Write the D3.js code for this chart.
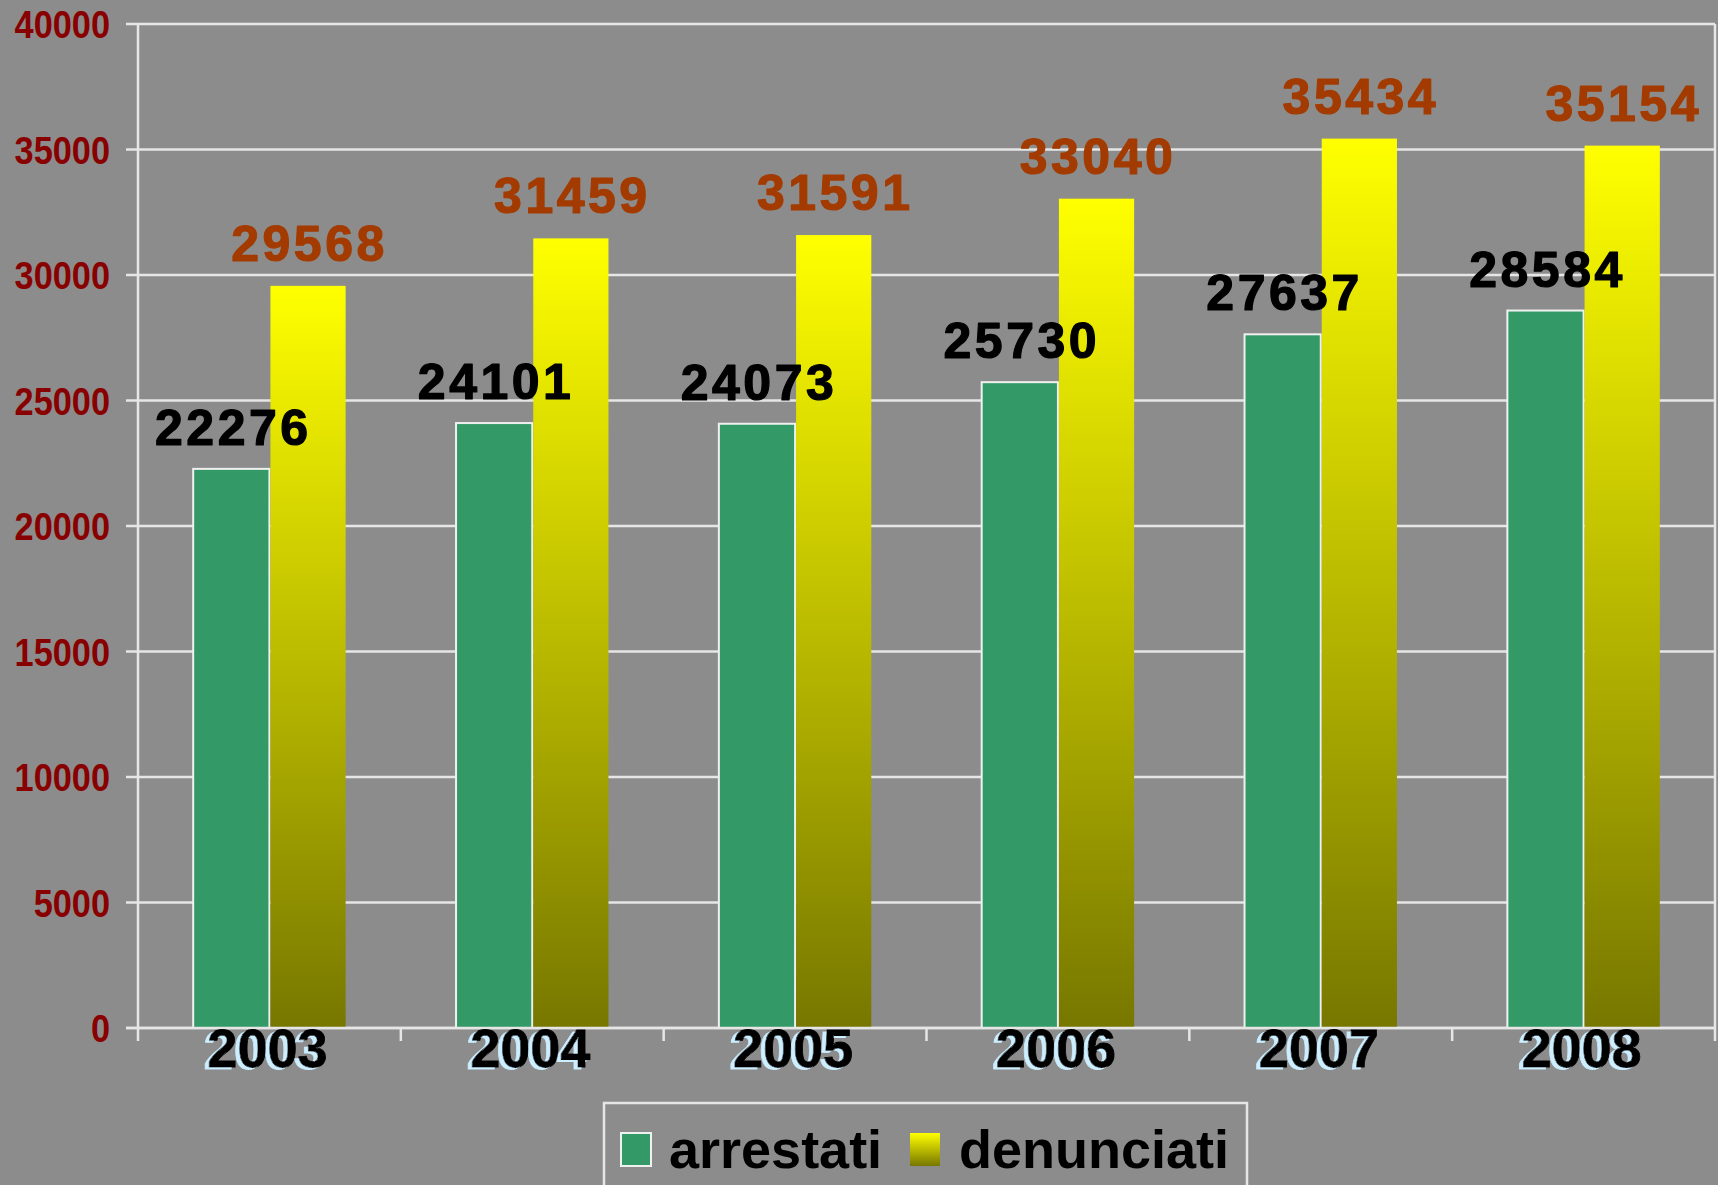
<!DOCTYPE html>
<html>
<head>
<meta charset="utf-8">
<script src="https://cdn.jsdelivr.net/npm/d3@7"></script>
<style>
  html, body { margin: 0; padding: 0; background: #8c8c8c; }
  svg { display: block; }
</style>
</head>
<body>
<svg id="chart"></svg>
<script>
// chart data
var years = ["2003", "2004", "2005", "2006", "2007", "2008"];
var arrestati = [22276, 24101, 24073, 25730, 27637, 28584];
var denunciati = [29568, 31459, 31591, 33040, 35434, 35154];
var seriesNames = ["arrestati", "denunciati"];
var yTicks = [0, 5000, 10000, 15000, 20000, 25000, 30000, 35000, 40000];

var W = 1718, H = 1185;
var plot = { left: 138, right: 1715, top: 24, bottom: 1028 };
var font = "'Liberation Sans', Arial, sans-serif";
var gridColor = "#e6e6e6";

var svg = d3.select("#chart").attr("width", W).attr("height", H);
svg.append("rect").attr("width", W).attr("height", H).attr("fill", "#8c8c8c");

var defs = svg.append("defs");
// gradient for the yellow bars
var grad = defs.append("linearGradient")
  .attr("id", "yellowGrad")
  .attr("x1", 0).attr("y1", 0).attr("x2", 0).attr("y2", 1);
grad.append("stop").attr("offset", "0%").attr("stop-color", "#ffff00");
grad.append("stop").attr("offset", "100%").attr("stop-color", "#777700");

// light blue shadow behind the year labels
var shadow = defs.append("filter").attr("id", "yearShadow")
  .attr("x", "-10%").attr("y", "-10%").attr("width", "120%").attr("height", "130%");
shadow.append("feDropShadow")
  .attr("dx", -4).attr("dy", 2).attr("stdDeviation", 0)
  .attr("flood-color", "#cceeff").attr("flood-opacity", 1);

var x = d3.scaleBand().domain(years)
  .range([plot.left, plot.right])
  .paddingInner(0.42).paddingOuter(0.21);
var x1 = d3.scaleBand().domain(seriesNames).range([0, x.bandwidth()]);
var y = d3.scaleLinear().domain([0, 40000]).range([plot.bottom, plot.top]);

// gridlines (with the little tick to the left)
svg.append("g").selectAll("line")
  .data(yTicks)
  .join("line")
  .attr("x1", plot.left - 12).attr("x2", plot.right)
  .attr("y1", d => y(d)).attr("y2", d => y(d))
  .attr("stroke", gridColor).attr("stroke-width", 2.5);

// y labels, slightly condensed
svg.append("g").selectAll("text")
  .data(yTicks)
  .join("text")
  .attr("transform", d => `translate(110,${y(d)}) scale(0.88,1)`)
  .attr("text-anchor", "end")
  .attr("dy", "0.36em")
  .attr("fill", "#880000")
  .style("font-family", font)
  .style("font-weight", "bold")
  .style("font-size", "39px")
  .text(d => d);

// left and right border lines
svg.append("line")
  .attr("x1", plot.left).attr("x2", plot.left)
  .attr("y1", plot.top).attr("y2", plot.bottom + 13)
  .attr("stroke", gridColor).attr("stroke-width", 2.5);
svg.append("line")
  .attr("x1", plot.right).attr("x2", plot.right)
  .attr("y1", plot.top).attr("y2", plot.bottom + 13)
  .attr("stroke", gridColor).attr("stroke-width", 2.5);

// x category ticks at boundaries
var step = x.step();
svg.append("g").selectAll("line")
  .data(years.slice(1))
  .join("line")
  .attr("x1", d => x(d) - x.paddingInner() * step / 2)
  .attr("x2", d => x(d) - x.paddingInner() * step / 2)
  .attr("y1", plot.bottom).attr("y2", plot.bottom + 13)
  .attr("stroke", gridColor).attr("stroke-width", 2.5);

// bars
var groups = svg.append("g").selectAll("g")
  .data(years)
  .join("g")
  .attr("transform", d => `translate(${x(d)},0)`);

groups.append("rect")
  .attr("x", x1("arrestati"))
  .attr("y", (d, i) => y(arrestati[i]))
  .attr("width", x1.bandwidth())
  .attr("height", (d, i) => y(0) - y(arrestati[i]))
  .attr("fill", "#339966")
  .attr("stroke", "#f0f0f0")
  .attr("stroke-width", 2);

groups.append("rect")
  .attr("x", x1("denunciati") + 1)
  .attr("y", (d, i) => y(denunciati[i]))
  .attr("width", x1.bandwidth() - 1)
  .attr("height", (d, i) => y(0) - y(denunciati[i]))
  .attr("fill", "url(#yellowGrad)");

// x axis baseline
svg.append("line")
  .attr("x1", plot.left - 12).attr("x2", plot.right)
  .attr("y1", plot.bottom).attr("y2", plot.bottom)
  .attr("stroke", gridColor).attr("stroke-width", 2.5);

// value labels
function valueLabels(values, series, color, gap) {
  groups.append("text")
    .attr("x", x1(series) + x1.bandwidth() / 2 + 2)
    .attr("y", (d, i) => y(values[i]) - gap)
    .attr("text-anchor", "middle")
    .style("font-family", font)
    .style("font-weight", "bold")
    .style("font-size", "50px")
    .style("letter-spacing", "3.5px")
    .attr("fill", color)
    .attr("stroke", color).attr("stroke-width", 1.2).attr("stroke-linejoin", "round")
    .text((d, i) => values[i]);
}
valueLabels(arrestati, "arrestati", "#000", 24);
valueLabels(denunciati, "denunciati", "#a33b00", 25);

// year labels
svg.append("g").selectAll("text")
  .data(years)
  .join("text")
  .attr("x", d => x(d) + x.bandwidth() / 2 - 2)
  .attr("y", 1067)
  .attr("text-anchor", "middle")
  .attr("filter", "url(#yearShadow)")
  .style("font-family", font)
  .style("font-weight", "bold")
  .style("font-size", "54px")
  .attr("fill", "#000")
  .attr("stroke", "#000").attr("stroke-width", 0.8)
  .text(d => d);

// legend
var legend = svg.append("g");
legend.append("rect")
  .attr("x", 604).attr("y", 1103)
  .attr("width", 643).attr("height", 100)
  .attr("fill", "#8c8c8c")
  .attr("stroke", gridColor).attr("stroke-width", 2.5);

var legendItems = [
  { name: seriesNames[0], fill: "#339966", stroke: "#f0f0f0", sx: 621, tx: 669 },
  { name: seriesNames[1], fill: "url(#yellowGrad)", stroke: "none", sx: 910, tx: 959 }
];
legend.selectAll("rect.swatch")
  .data(legendItems)
  .join("rect")
  .attr("class", "swatch")
  .attr("x", d => d.sx).attr("y", 1133)
  .attr("width", 30).attr("height", 33)
  .attr("fill", d => d.fill)
  .attr("stroke", d => d.stroke).attr("stroke-width", 2);
legend.selectAll("text")
  .data(legendItems)
  .join("text")
  .attr("x", d => d.tx).attr("y", 1168)
  .style("font-family", font)
  .style("font-weight", "bold")
  .style("font-size", "54px")
  .attr("fill", "#000")
  .text(d => d.name);
</script>
</body>
</html>
